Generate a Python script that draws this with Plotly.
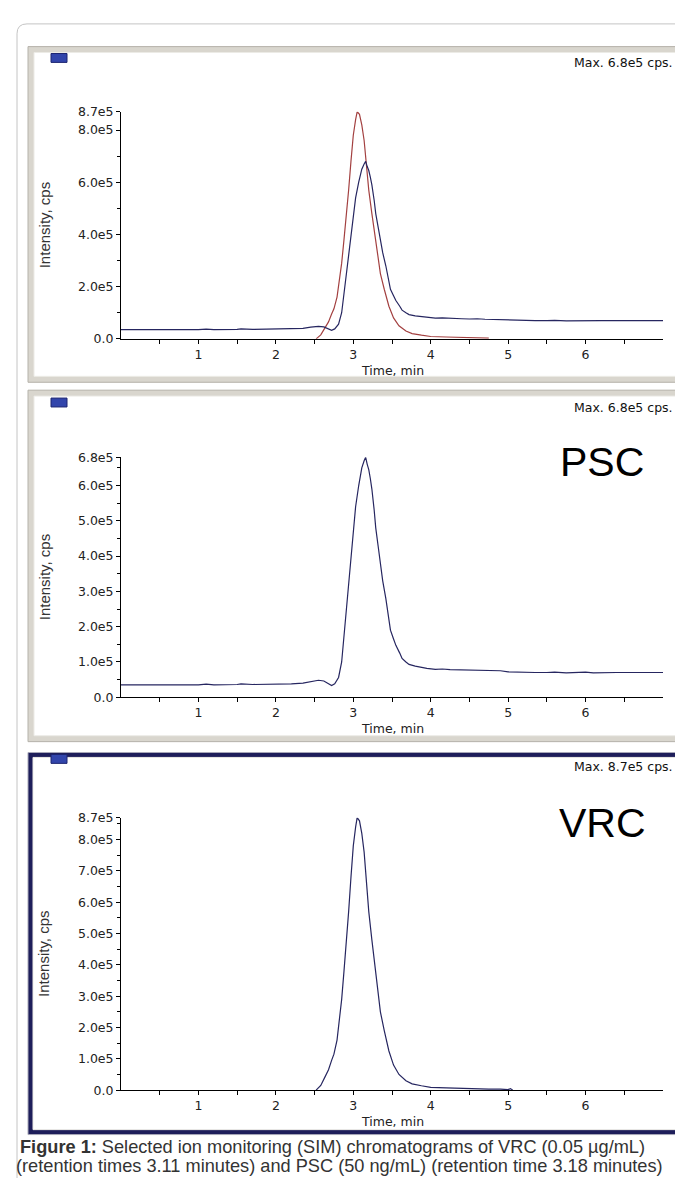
import plotly.graph_objects as go

W, H = 683, 1178

# ---------------- data (intensity in units of 1e5 cps, time in min) ----------------
psc_time = [0.0, 0.25, 0.5, 0.6, 0.75, 1.0, 1.1, 1.2, 1.5, 1.55, 1.7, 1.9, 2.0, 2.2, 2.35,
            2.45, 2.55, 2.62, 2.68, 2.72, 2.76, 2.81, 2.85, 2.88, 2.91, 2.94, 2.97, 3.0,
            3.03, 3.07, 3.11, 3.14, 3.16, 3.18, 3.2, 3.22, 3.24, 3.27, 3.29, 3.32, 3.35,
            3.38, 3.42, 3.45, 3.48, 3.52, 3.55, 3.6, 3.63, 3.68, 3.72, 3.8, 3.89, 3.95,
            4.06, 4.15, 4.25, 4.4, 4.5, 4.6, 4.7, 4.8, 4.9, 5.0, 5.1, 5.2, 5.35, 5.5, 5.6,
            5.75, 5.9, 6.0, 6.1, 6.2, 6.4, 6.6, 6.8, 7.0]
psc_int = [0.35, 0.35, 0.34, 0.36, 0.35, 0.35, 0.37, 0.35, 0.36, 0.38, 0.36, 0.37, 0.36, 0.38, 0.40,
           0.45, 0.48, 0.46, 0.38, 0.33, 0.38, 0.56, 1.0, 1.75, 2.5, 3.25, 4.0, 4.8,
           5.4, 6.0, 6.5, 6.7, 6.8, 6.6, 6.45, 6.2, 5.9, 5.3, 4.8, 4.3, 3.8,
           3.3, 2.8, 2.3, 1.9, 1.65, 1.47, 1.25, 1.1, 1.0, 0.93, 0.88, 0.84, 0.82,
           0.79, 0.80, 0.78, 0.77, 0.76, 0.77, 0.75, 0.74, 0.75, 0.72, 0.71, 0.72, 0.70, 0.70, 0.71,
           0.69, 0.70, 0.71, 0.69, 0.70, 0.70, 0.70, 0.70, 0.70]

vrc_time = [2.52, 2.58, 2.63, 2.68, 2.72, 2.75, 2.79, 2.82, 2.85, 2.88, 2.91, 2.94, 2.97, 3.0,
            3.03, 3.05, 3.08, 3.11, 3.14, 3.17, 3.2, 3.24, 3.28, 3.31, 3.35, 3.4, 3.46, 3.52,
            3.59, 3.68, 3.76, 3.88, 4.0, 4.2, 4.4, 4.6, 4.75, 4.9, 5.0, 5.03, 5.06]
vrc_int = [0.0, 0.15, 0.4, 0.65, 0.95, 1.15, 1.6, 2.2, 2.9, 3.8, 4.7, 5.7, 6.8, 7.8,
           8.4, 8.7, 8.6, 8.2, 7.6, 6.6, 5.7, 4.8, 3.9, 3.2, 2.5, 1.9, 1.25, 0.8,
           0.5, 0.3, 0.2, 0.14, 0.09, 0.07, 0.05, 0.04, 0.03, 0.03, 0.02, 0.05, 0.0]
vrc_overlay_end = 4.75  # red VRC trace in the overlay panel stops here

x_tick_vals = [1, 2, 3, 4, 5, 6]
x_tick_text = ["1", "2", "3", "4", "5", "6"]
x_minor_vals = [0.5, 1.5, 2.5, 3.5, 4.5, 5.5, 6.5]

p1_ytick_vals = [0, 2, 4, 6, 8, 8.7]
p1_ytick_text = ["0.0", "2.0e5", "4.0e5", "6.0e5", "8.0e5", "8.7e5"]
p1_yminor = [1, 3, 5, 7]
p2_ytick_vals = [0, 1, 2, 3, 4, 5, 6, 6.8]
p2_ytick_text = ["0.0", "1.0e5", "2.0e5", "3.0e5", "4.0e5", "5.0e5", "6.0e5", "6.8e5"]
p2_yminor = [0.5, 1.5, 2.5, 3.5, 4.5, 5.5, 6.5]
p3_ytick_vals = [0, 1, 2, 3, 4, 5, 6, 7, 8, 8.7]
p3_ytick_text = ["0.0", "1.0e5", "2.0e5", "3.0e5", "4.0e5", "5.0e5", "6.0e5", "7.0e5", "8.0e5", "8.7e5"]
p3_yminor = [0.5, 1.5, 2.5, 3.5, 4.5, 5.5, 6.5, 7.5, 8.5]

max_texts = ["Max. 6.8e5 cps.", "Max. 6.8e5 cps.", "Max. 8.7e5 cps."]
panel_names = ["", "PSC", "VRC"]
marker_levels = [0.35, 0.35, 0.47]
y_title = "Intensity, cps"
x_title = "Time, min"
caption_1 = "<b>Figure 1:</b> Selected ion monitoring (SIM) chromatograms of VRC (0.05 µg/mL)"
caption_2 = "(retention times 3.11 minutes) and PSC (50 ng/mL) (retention time 3.18 minutes)"

# ---------------- layout geometry (pixels) ----------------
PLOT_X0, PLOT_X1 = 113, 655
X_RANGE = [0, 7.0]
panels = [
    dict(frame=(20, 31, 678, 371), top=97, bottom=327, ymax=8.7, maxy=47, sq=38,
         ticks=(p1_ytick_vals, p1_ytick_text, p1_yminor), style="gray"),
    dict(frame=(20, 379, 678, 735), top=447, bottom=690, ymax=6.8, maxy=397, sq=387,
         ticks=(p2_ytick_vals, p2_ytick_text, p2_yminor), style="gray"),
    dict(frame=(20, 746, 678, 1133), top=812, bottom=1088, ymax=8.7, maxy=760, sq=748,
         ticks=(p3_ytick_vals, p3_ytick_text, p3_yminor), style="navy"),
]

def px(x):
    return x / W

def py(y):
    return 1 - y / H

NAVY = "#262660"
RED = "#a34040"
TICKFONT = dict(family="DejaVu Sans", size=12.5, color="#222222")

fig = go.Figure()
shapes = []
annotations = []

# outer rounded border of the figure
shapes.append(dict(type="path", xref="paper", yref="paper",
                   path=f"M {px(9)},{py(1178)} L {px(9)},{py(18)} Q {px(9)},{py(8)} {px(19)},{py(8)} L {px(683)},{py(8)}",
                   line=dict(color="#c4c4c4", width=1), layer="below"))

for i, p in enumerate(panels):
    n = "" if i == 0 else str(i + 1)
    xa, ya = "x" + n, "y" + n
    x0, y0, x1, y1 = p["frame"]
    if p["style"] == "gray":
        shapes.append(dict(type="rect", xref="paper", yref="paper", x0=px(x0), x1=px(x1),
                           y0=py(y1), y1=py(y0), fillcolor="#d9d6ce",
                           line=dict(color="#b5b2aa", width=1), layer="below"))
        inset = 6
    else:
        shapes.append(dict(type="rect", xref="paper", yref="paper", x0=px(x0), x1=px(x1),
                           y0=py(y1), y1=py(y0), fillcolor="#1e1e5a",
                           line=dict(color="#a8a8b8", width=1), layer="below"))
        inset = 5
    shapes.append(dict(type="rect", xref="paper", yref="paper", x0=px(x0 + inset), x1=px(x1 - inset),
                       y0=py(y1 - inset), y1=py(y0 + inset), fillcolor="white",
                       line=dict(color="#ecebe6", width=1), layer="below"))
    # small blue square
    shapes.append(dict(type="rect", xref="paper", yref="paper", x0=px(43), x1=px(59),
                       y0=py(p["sq"] + 9), y1=py(p["sq"]), fillcolor="#3245ab",
                       line=dict(color="#1c2470", width=1), layer="above"))

    tv, tt, tminor = p["ticks"]
    fig.layout["xaxis" + n] = dict(
        domain=[px(PLOT_X0), px(PLOT_X1)], range=X_RANGE, anchor=ya,
        showline=True, linecolor="black", linewidth=1, mirror=False,
        ticks="outside", ticklen=4, tickcolor="black", tickwidth=1,
        tickvals=x_tick_vals, ticktext=x_tick_text, tickfont=TICKFONT,
        minor=dict(tickvals=x_minor_vals, ticks="outside", ticklen=4, tickcolor="black"),
        showgrid=False, zeroline=False, fixedrange=True)
    fig.layout["yaxis" + n] = dict(
        domain=[py(p["bottom"]), py(p["top"])], range=[0, p["ymax"]], anchor=xa,
        showline=True, linecolor="black", linewidth=1,
        ticks="outside", ticklen=4, tickcolor="black", tickwidth=1,
        tickvals=tv, ticktext=tt, tickfont=TICKFONT,
        minor=dict(tickvals=tminor, ticks="outside", ticklen=3, tickcolor="black"),
        showgrid=False, zeroline=False, fixedrange=True)

    # traces
    if i == 0:
        ov_t = [t for t in vrc_time if t <= vrc_overlay_end]
        ov_v = vrc_int[:len(ov_t)]
        fig.add_trace(go.Scatter(x=ov_t, y=ov_v, mode="lines", line=dict(color=RED, width=1.2),
                                 xaxis=xa, yaxis=ya, showlegend=False))
        fig.add_trace(go.Scatter(x=psc_time, y=psc_int, mode="lines", line=dict(color=NAVY, width=1.2),
                                 xaxis=xa, yaxis=ya, showlegend=False))
    elif i == 1:
        fig.add_trace(go.Scatter(x=psc_time, y=psc_int, mode="lines", line=dict(color=NAVY, width=1.2),
                                 xaxis=xa, yaxis=ya, showlegend=False))
    else:
        fig.add_trace(go.Scatter(x=vrc_time, y=vrc_int, mode="lines", line=dict(color=NAVY, width=1.2),
                                 xaxis=xa, yaxis=ya, showlegend=False))
    # start marker (triangle at the y axis)
    fig.add_trace(go.Scatter(x=[-0.045], y=[marker_levels[i]], mode="markers",
                             marker=dict(symbol="triangle-right", size=10, color="#1f2a80"),
                             cliponaxis=False, xaxis=xa, yaxis=ya, showlegend=False))

    annotations.append(dict(xref="paper", yref="paper", x=px(667), y=py(p["maxy"]),
                            xanchor="right", yanchor="middle", text=max_texts[i], showarrow=False,
                            font=dict(family="DejaVu Sans", size=12.5, color="#111111")))
    if panel_names[i]:
        annotations.append(dict(xref="paper", yref="paper", x=px(594), y=py(p["top"] + 5),
                                xanchor="center", yanchor="middle", text=panel_names[i], showarrow=False,
                                font=dict(family="Liberation Sans", size=41, color="black")))
    annotations.append(dict(xref="paper", yref="paper", x=px(36), y=py((p["top"] + p["bottom"]) / 2),
                            xanchor="center", yanchor="middle", text=y_title, textangle=-90,
                            showarrow=False, font=dict(family="Liberation Sans", size=15, color="#333333")))
    annotations.append(dict(xref="paper", yref="paper", x=px((PLOT_X0 + PLOT_X1) / 2), y=py(p["bottom"] + 32),
                            xanchor="center", yanchor="middle", text=x_title, showarrow=False,
                            font=dict(family="DejaVu Sans", size=12.5, color="#222222")))

annotations.append(dict(xref="paper", yref="paper", x=px(10), y=py(1146), xanchor="left", yanchor="middle",
                        text=caption_1, showarrow=False,
                        font=dict(family="Liberation Sans", size=18.2, color="#333333")))
annotations.append(dict(xref="paper", yref="paper", x=px(6), y=py(1165), xanchor="left", yanchor="middle",
                        text=caption_2, showarrow=False,
                        font=dict(family="Liberation Sans", size=18.2, color="#333333")))

fig.update_layout(width=W, height=H, autosize=False, margin=dict(l=0, r=0, t=0, b=0, pad=0),
                  paper_bgcolor="white", plot_bgcolor="rgba(0,0,0,0)",
                  shapes=shapes, annotations=annotations, showlegend=False)

fig.write_html("out.html")
